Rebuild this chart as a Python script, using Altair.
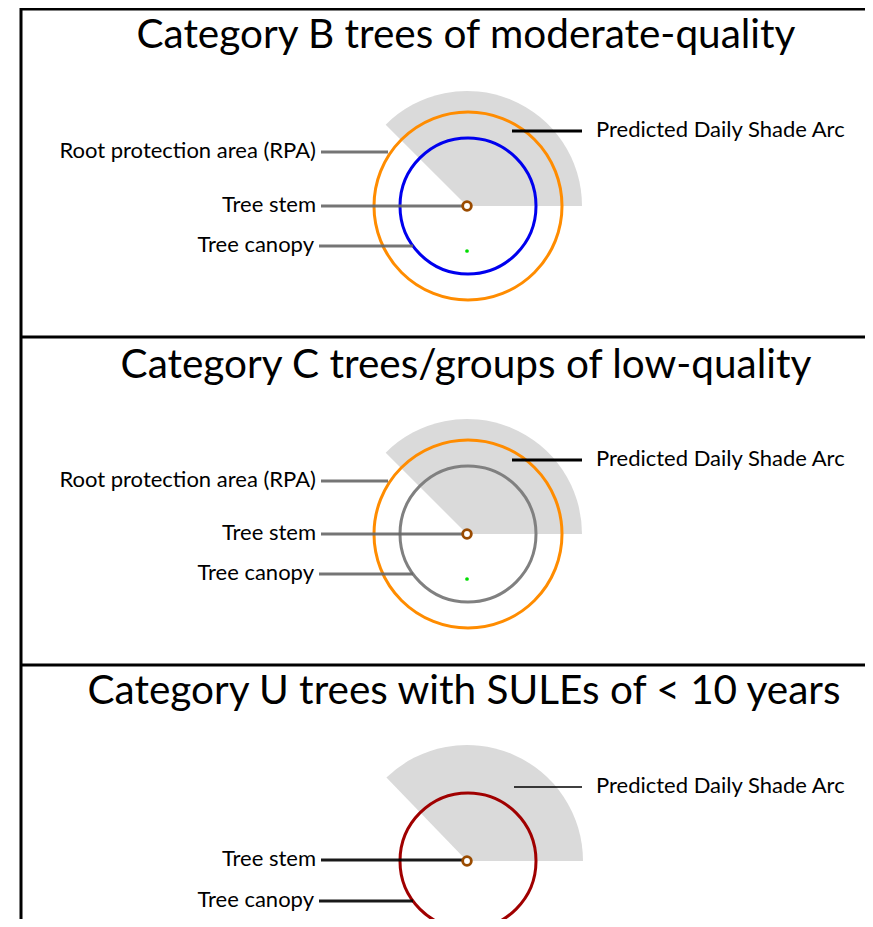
import math
import altair as alt
import pandas as pd

# ---- diagram data (page-pixel coordinates) ----
titles = ["Category B trees of moderate-quality",
          "Category C trees/groups of low-quality",
          "Category U trees with SULEs of < 10 years"]
title_x = [466, 466, 464]
title_y = [36, 366, 692]

center_x = [467, 467, 467]
center_y = [206, 534, 861]

rpa_radius = [94, 94, 0]
canopy_radius = [68, 68, 68]
canopy_colors = ["#0000ee", "#808080", "#a00000"]
shade_radius = [115, 115, 116]
shade_start_deg = [315, 315, 316]
shade_end_deg = [450, 450, 450]
green_dot_y = [251, 579, None]

# leader lines: panel, label, y, x_start, x_end
leader_panel = [0, 0, 0, 1, 1, 1, 2, 2]
leader_label = ["Root protection area (RPA)", "Tree stem", "Tree canopy",
                "Root protection area (RPA)", "Tree stem", "Tree canopy",
                "Tree stem", "Tree canopy"]
leader_y = [152, 206, 246, 481, 534, 574, 860, 901]
leader_x1 = [321, 321, 319, 321, 321, 319, 321, 319]
leader_x2 = [388, 464, 413, 388, 464, 413, 464, 413]
leader_colors = ["#666666", "#666666", "#666666", "#666666", "#666666", "#666666",
                 "#000000", "#000000"]

shade_label = "Predicted Daily Shade Arc"
shade_label_y = [131, 460, 787]
shade_line_x1 = [512, 512, 514]
shade_line_x2 = [582, 582, 582]
shade_line_w = [3, 3, 1.5]

frame_h_y = [9, 337, 665]
frame_v_x = 21

X0, X1, Y0, Y1 = 8, 865, 8, 919
xs = alt.Scale(domain=[X0, X1])
ys = alt.Scale(domain=[Y0, Y1], reverse=True)
FONT = "Lato"

def X(f):
    return alt.X(f, type="quantitative", scale=xs, axis=None)

def Y(f):
    return alt.Y(f, type="quantitative", scale=ys, axis=None)

# shade wedges
wedges = pd.DataFrame({
    "x": center_x, "y": center_y, "r": shade_radius,
    "t1": [math.radians(d) for d in shade_start_deg],
    "t2": [math.radians(d) for d in shade_end_deg],
})
wedge_layer = alt.Chart(wedges).mark_arc(color="#dadada").encode(
    x=X("x"), y=Y("y"),
    theta=alt.Theta("t1:Q", scale=None), theta2=alt.Theta2("t2"),
    radius=alt.Radius("r:Q", scale=None),
)

# rings (RPA + canopy)
ring_rows = []
for i in range(3):
    if rpa_radius[i] > 0:
        ring_rows.append({"x": center_x[i] + 1, "y": center_y[i], "s": (2 * rpa_radius[i]) ** 2, "c": "#ff8c00"})
    ring_rows.append({"x": center_x[i] + 1, "y": center_y[i], "s": (2 * canopy_radius[i]) ** 2, "c": canopy_colors[i]})
rings = pd.DataFrame(ring_rows)
ring_layer = alt.Chart(rings).mark_point(shape="circle", filled=False, strokeWidth=3, opacity=1).encode(
    x=X("x"), y=Y("y"),
    size=alt.Size("s:Q", scale=None, legend=None),
    stroke=alt.Stroke("c:N", scale=None, legend=None),
)

# leader lines
leaders = pd.DataFrame({"x1": leader_x1, "x2": leader_x2, "y": leader_y,
                        "c": leader_colors, "label": leader_label})
leader_layer = alt.Chart(leaders).mark_rule(strokeWidth=3, opacity=0.9).encode(
    x=X("x1"), x2="x2", y=Y("y"),
    color=alt.Color("c:N", scale=None, legend=None),
)
leader_text = alt.Chart(leaders).mark_text(
    align="right", baseline="middle", font=FONT, fontSize=22, color="#000000", dx=-5, dy=-1
).encode(x=X("x1"), y=Y("y"), text="label:N")

# shade label lines + text
shade = pd.DataFrame({"x1": shade_line_x1, "x2": shade_line_x2, "y": shade_label_y,
                      "w": shade_line_w, "label": [shade_label] * 3})
shade_line_layer = alt.Chart(shade).mark_rule(color="#000000").encode(
    x=X("x1"), x2="x2", y=Y("y"),
    strokeWidth=alt.StrokeWidth("w:Q", scale=None, legend=None),
)
shade_text = alt.Chart(shade).mark_text(
    align="left", baseline="middle", font=FONT, fontSize=22, color="#000000", dx=14, dy=-1
).encode(x=X("x2"), y=Y("y"), text="label:N")

# stems and green dots
stems = pd.DataFrame({"x": center_x, "y": center_y})
stem_layer = alt.Chart(stems).mark_point(
    shape="circle", filled=True, fill="#ffffff", stroke="#9a4b00", strokeWidth=2.8, size=75, opacity=1
).encode(x=X("x"), y=Y("y"))
greens = pd.DataFrame({"x": [center_x[i] for i in range(3) if green_dot_y[i] is not None],
                       "y": [g for g in green_dot_y if g is not None]})
green_layer = alt.Chart(greens).mark_point(
    shape="circle", filled=True, color="#00dd00", size=14, opacity=1
).encode(x=X("x"), y=Y("y"))

# titles
tdf = pd.DataFrame({"x": title_x, "y": title_y, "t": titles})
title_layer = alt.Chart(tdf).mark_text(
    align="center", baseline="middle", font=FONT, fontSize=40.5, color="#000000"
).encode(x=X("x"), y=Y("y"), text="t:N")

# frame
hlines = pd.DataFrame({"x1": [frame_v_x] * 3, "x2": [880] * 3, "y": frame_h_y})
h_layer = alt.Chart(hlines).mark_rule(color="#000000", strokeWidth=3).encode(
    x=X("x1"), x2="x2", y=Y("y"))
vline = pd.DataFrame({"x": [frame_v_x], "y1": [0], "y2": [930]})
v_layer = alt.Chart(vline).mark_rule(color="#000000", strokeWidth=3).encode(
    x=X("x"), y=Y("y1"), y2="y2")

chart = alt.layer(
    wedge_layer, ring_layer, leader_layer, shade_line_layer,
    stem_layer, green_layer, leader_text, shade_text, title_layer,
    h_layer, v_layer,
).properties(
    width=X1 - X0, height=Y1 - Y0, padding=0,
    autosize=alt.AutoSizeParams(type="none"),
    background="#ffffff",
).configure_view(strokeWidth=0)

chart.save("out.html", embed_options={"renderer": "svg", "actions": False})
